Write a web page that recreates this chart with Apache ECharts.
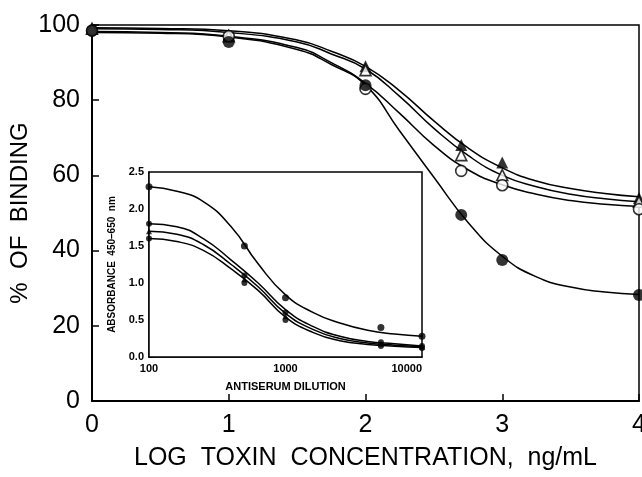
<!DOCTYPE html>
<html>
<head>
<meta charset="utf-8">
<script src="https://cdn.jsdelivr.net/npm/echarts@6/dist/echarts.min.js"></script>
<style>
  html, body { margin: 0; padding: 0; background: #fff; }
  #chart { width: 642px; height: 477px; }
</style>
</head>
<body>
<div id="chart"></div>
<script>
// main plot: log toxin concentration vs % of binding
var mainX = [0, 1, 2, 2.7, 3, 4];
var solidTri = [99, 97.5, 89, 68.1, 63.4, 54];
var openTri = [99, 97, 88, 65.4, 60.1, 53];
var openCirc = [98.5, 97, 83, 61.2, 57.4, 51];
var solidCirc = [98.5, 95.5, 84, 49.5, 37.5, 28.2];

// fitted curves
var curveX = [0, 0.5, 1, 1.5, 1.75, 2, 2.25, 2.5, 2.75, 3, 3.25, 3.5, 3.75, 4];
var curveST = [99.3, 99.1, 98.5, 96, 93, 89, 82.5, 74.5, 67.3, 62, 58.5, 56.5, 55.2, 54.3];
var curveOT = [99, 98.8, 98, 95.5, 92.3, 88.3, 81, 72.5, 65.3, 60, 57, 55, 53.8, 53];
var curveOC = [98.3, 98, 97, 94, 90, 84.5, 76.5, 68, 61.5, 57.5, 55, 53.3, 52.3, 51.7];
var curveSC = [98, 97.8, 96.8, 93.5, 89.5, 84, 71.8, 59.5, 47.5, 38.5, 33, 30.3, 29, 28.3];

// inset: antiserum dilution vs absorbance
var insetX = [100, 500, 1000, 5000, 10000];
var insetA = [2.3, 1.5, 0.8, 0.4, 0.28];
var insetB = [1.8, 1.1, 0.6, 0.2, 0.15];
var insetC = [1.7, 1.05, 0.55, 0.18, 0.14];
var insetD = [1.6, 1.0, 0.5, 0.15, 0.12];
var insetCurveX = [100, 160, 250, 400, 630, 1000, 1600, 2500, 4000, 6300, 10000];
var insetCurveA = [2.3, 2.24, 2.1, 1.76, 1.26, 0.84, 0.6, 0.46, 0.36, 0.31, 0.28];
var insetCurveB = [1.8, 1.76, 1.6, 1.31, 1.0, 0.64, 0.41, 0.28, 0.21, 0.18, 0.15];
var insetCurveC = [1.7, 1.66, 1.52, 1.25, 0.95, 0.59, 0.37, 0.25, 0.19, 0.16, 0.14];
var insetCurveD = [1.6, 1.56, 1.44, 1.19, 0.9, 0.54, 0.33, 0.22, 0.17, 0.145, 0.13];

function pairs(xs, ys) {
  return xs.map(function (x, i) { return [x, ys[i]]; });
}

var font = 'Liberation Sans';

function curve(xs, ys, idx) {
  return {
    type: 'line', xAxisIndex: idx, yAxisIndex: idx, data: pairs(xs, ys),
    smooth: 0.5, showSymbol: false,
    lineStyle: { color: '#000', width: 1.5 }, z: idx ? 10 : 2
  };
}
function marks(xs, ys, idx, symbol, size, filled) {
  return {
    type: 'scatter', xAxisIndex: idx, yAxisIndex: idx, data: pairs(xs, ys),
    symbol: symbol, symbolSize: size,
    itemStyle: { color: filled ? '#000' : '#fff', borderColor: '#000', borderWidth: filled ? 0 : 1.6 },
    z: idx ? 11 : 3
  };
}

var chart = echarts.init(document.getElementById('chart'));
var option = {
  animation: false,
  backgroundColor: '#fff',
  grid: [
    { left: 92, top: 25, right: 3, bottom: 76, outerBoundsMode: 'none', containLabel: false,
      show: true, borderColor: '#000', borderWidth: 1.5, backgroundColor: 'transparent' },
    { left: 149, top: 172, width: 273, height: 185, outerBoundsMode: 'none', containLabel: false,
      show: true, borderColor: '#000', borderWidth: 1.5, backgroundColor: '#fff', z: 5 }
  ],
  xAxis: [
    {
      gridIndex: 0, type: 'value', min: 0, max: 4, interval: 1,
      name: 'LOG  TOXIN  CONCENTRATION,  ng/mL', nameLocation: 'middle', nameGap: 45,
      nameTextStyle: { fontFamily: font, fontSize: 25, color: '#000' },
      axisLine: { lineStyle: { color: '#000', width: 2 } },
      axisTick: { inside: true, length: 7, lineStyle: { color: '#000', width: 1.5 } },
      axisLabel: { fontFamily: font, fontSize: 25, color: '#000', margin: 12 },
      splitLine: { show: false }
    },
    {
      gridIndex: 1, type: 'log', logBase: 10, min: 100, max: 10000,
      name: 'ANTISERUM DILUTION', nameLocation: 'middle', nameGap: 24,
      nameTextStyle: { fontFamily: font, fontSize: 11, fontWeight: 'bold', color: '#000' },
      axisLine: { lineStyle: { color: '#000', width: 1.5 } },
      axisTick: { show: false },
      minorTick: { show: false },
      axisLabel: { fontFamily: font, fontSize: 11, fontWeight: 'bold', color: '#000', margin: 6,
        alignMaxLabel: 'right', formatter: function (v) { return String(Math.round(v)); } },
      splitLine: { show: false }
    }
  ],
  yAxis: [
    {
      gridIndex: 0, type: 'value', min: 0, max: 100, interval: 20,
      name: '%  OF  BINDING', nameLocation: 'middle', nameGap: 60, nameMoveOverlap: false,
      nameTextStyle: { fontFamily: font, fontSize: 24, color: '#000' },
      axisLine: { lineStyle: { color: '#000', width: 2 } },
      axisTick: { inside: true, length: 7, lineStyle: { color: '#000', width: 1.5 } },
      axisLabel: { fontFamily: font, fontSize: 25, color: '#000', margin: 12 },
      splitLine: { show: false }
    },
    {
      gridIndex: 1, type: 'value', min: 0, max: 2.5, interval: 0.5,
      name: 'ABSORBANCE  450\u2013650  nm', nameLocation: 'middle', nameGap: 32,
      nameTextStyle: { fontFamily: font, fontSize: 10, fontWeight: 'bold', color: '#000' },
      axisLine: { lineStyle: { color: '#000', width: 1.5 } },
      axisTick: { inside: true, length: 4, lineStyle: { color: '#000' } },
      axisLabel: { fontFamily: font, fontSize: 11, fontWeight: 'bold', color: '#000', margin: 5,
        formatter: function (v) { return v.toFixed(1); } },
      splitLine: { show: false }
    }
  ],
  series: [
    curve(curveX, curveST, 0),
    curve(curveX, curveOT, 0),
    curve(curveX, curveOC, 0),
    curve(curveX, curveSC, 0),
    marks(mainX, solidTri, 0, 'triangle', 12, true),
    marks(mainX, openTri, 0, 'triangle', 11, false),
    marks(mainX, openCirc, 0, 'circle', 11, false),
    marks(mainX, solidCirc, 0, 'circle', 12, true),
    curve(insetCurveX, insetCurveA, 1),
    curve(insetCurveX, insetCurveB, 1),
    curve(insetCurveX, insetCurveC, 1),
    curve(insetCurveX, insetCurveD, 1),
    marks(insetX, insetA, 1, 'circle', 7, true),
    marks(insetX, insetB, 1, 'circle', 6, true),
    marks(insetX, insetC, 1, 'triangle', 6, true),
    marks(insetX, insetD, 1, 'circle', 6, true)
  ]
};
option && chart.setOption(option);
</script>
</body>
</html>
